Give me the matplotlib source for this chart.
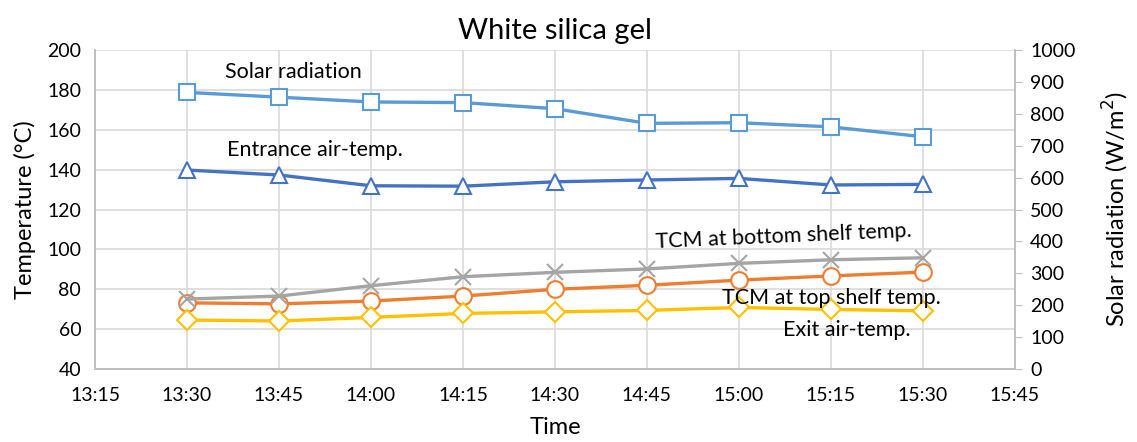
import matplotlib.pyplot as plt

times = ["13:30", "13:45", "14:00", "14:15", "14:30", "14:45", "15:00", "15:15", "15:30"]
tick_labels = ["13:15", "13:30", "13:45", "14:00", "14:15", "14:30",
               "14:45", "15:00", "15:15", "15:30", "15:45"]

solar = [867, 852, 837, 835, 816, 770, 772, 759, 728]
entrance = [139.8, 137.3, 131.9, 131.7, 133.9, 134.8, 135.6, 132.3, 132.6]
tcm_bottom = [75.1, 76.6, 81.8, 86.3, 88.5, 90.2, 93.0, 94.8, 95.8]
tcm_top = [73.2, 72.7, 74.1, 76.6, 80.0, 82.0, 84.6, 86.7, 88.6]
exit_air = [64.6, 64.1, 65.9, 67.9, 68.7, 69.4, 70.9, 69.9, 69.2]


def to_min(s):
    h, m = s.split(":")
    return int(h) * 60 + int(m)


x = [to_min(t) for t in times]
xt = [to_min(t) for t in tick_labels]

plt.rcParams['font.family'] = ['Lato', 'DejaVu Sans']
grid_c = '#D9D9D9'

fig = plt.figure(figsize=(11.37, 4.42), dpi=100)
ax = fig.add_axes([0.0836, 0.165, 0.809, 0.722])
ax2 = ax.twinx()

lw = 2.4
ax.plot(x, entrance, color='#4472C4', lw=lw, marker='^', ms=12, mfc='white',
        mec='#4472C4', mew=1.5, zorder=3)
ax.plot(x, tcm_top, color='#ED7D31', lw=lw, marker='o', ms=12, mfc='white',
        mec='#ED7D31', mew=1.5, zorder=3)
ax.plot(x, tcm_bottom, color='#A5A5A5', lw=lw, marker='x', ms=11,
        mec='#A5A5A5', mew=1.5, zorder=4)
ax.plot(x, exit_air, color='#FFC000', lw=lw, marker='D', ms=10, mfc='white',
        mec='#FFC000', mew=1.5, zorder=3)
ax2.plot(x, solar, color='#5B9BD5', lw=lw, marker='s', ms=12, mfc='white',
         mec='#5B9BD5', mew=1.5, zorder=3)

ax.set_xlim(xt[0], xt[-1])
ax.set_xticks(xt)
ax.set_xticklabels(tick_labels)
ax.set_ylim(40, 200)
ax.set_yticks(range(40, 201, 20))
ax2.set_ylim(0, 1000)
ax2.set_yticks(range(0, 1001, 100))

ax.grid(True, color=grid_c, lw=1.2)
ax.set_axisbelow(True)
for a in (ax, ax2):
    for s in a.spines.values():
        s.set_color('#BFBFBF')
        s.set_linewidth(1.2)
    a.spines['top'].set_visible(False)
ax.tick_params(axis='x', length=0, labelsize=14, pad=13)
ax.tick_params(axis='y', length=0, labelsize=14, pad=10)
ax2.tick_params(axis='y', length=5, color='#BFBFBF', labelsize=14, pad=6)

ax.set_xlabel("Time", fontsize=17, labelpad=9)
ax.set_ylabel("Temperature (°C)", fontsize=17, labelpad=8)
ax2.set_ylabel("Solar radiation (W/m$^2$)", fontsize=17, labelpad=18)
ax.set_title("White silica gel", fontsize=21, pad=8)

fs = 15.5
ax.text(816.2, 189, "Solar radiation", fontsize=fs, va='center')
ax.text(816.5, 149.8, "Entrance air-temp.", fontsize=fs, va='center')
ax.text(886.3, 106.5, "TCM at bottom shelf temp.", fontsize=fs,
        va='center', rotation=2.5)
ax.text(897.2, 75.6, "TCM at top shelf temp.", fontsize=fs, va='center')
ax.text(907.2, 59.6, "Exit air-temp.", fontsize=fs, va='center')

fig.savefig("out.png", dpi=100)
